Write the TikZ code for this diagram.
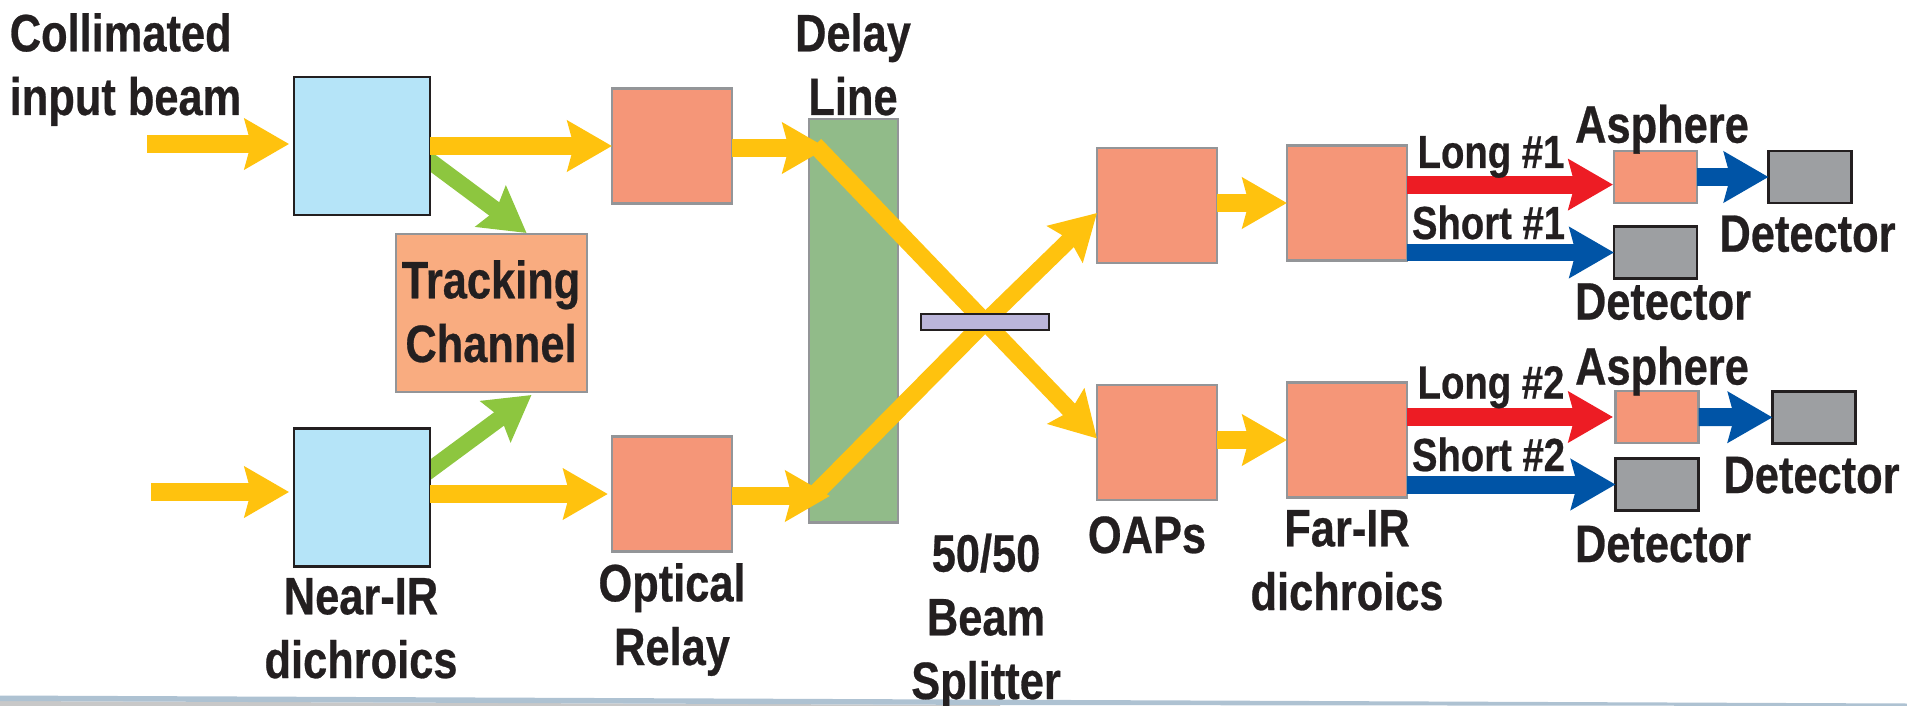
\documentclass[tikz,border=0pt]{standalone}
\usepackage{fontspec}
\setmainfont[FakeStretch=0.825,BoldFeatures={FakeBold=0.5}]{Liberation Sans}
\usetikzlibrary{arrows.meta}
\definecolor{inkc}{HTML}{231F20}
\definecolor{framec}{HTML}{939598}
\definecolor{nearc}{HTML}{B5E4F8}
\definecolor{salmonc}{HTML}{F59678}
\definecolor{trackc}{HTML}{F9AC80}
\definecolor{delayc}{HTML}{91BB89}
\definecolor{splitc}{HTML}{BBB5DA}
\definecolor{beamc}{HTML}{FFC20E}
\definecolor{greenc}{HTML}{8DC63F}
\definecolor{redc}{HTML}{ED1C24}
\definecolor{bluec}{HTML}{0054A6}
\definecolor{detc}{HTML}{9D9FA2}
\definecolor{stripc}{HTML}{AEC2D2}
\definecolor{stripd}{HTML}{C8C8C8}
\tikzset{
  box/.style={draw=framec, line width=2pt, outer sep=0pt, inner sep=0pt},
  nearir/.style={box, draw=inkc, fill=nearc, minimum width=1.36in, minimum height=1.38in},
  relaybox/.style={box, fill=salmonc, minimum width=1.2in, minimum height=1.15in},
  asphbox/.style={box, fill=salmonc, minimum width=0.83in, minimum height=0.52in},
  detbox/.style={box, draw=inkc, fill=detc, minimum width=0.83in, minimum height=0.52in},
  lbl/.style={text=inkc, inner sep=0pt, align=center, anchor=base, font=\fontsize{38}{46}\bfseries\selectfont},
  sublbl/.style={lbl, font=\fontsize{33.5}{40}\bfseries\selectfont},
  beam/.style={line width=13pt, -{Stealth[length=32pt, width=36pt, inset=4.5pt]}},
  thinbeam/.style={beam, line width=12pt},
  plainbeam/.style={draw=beamc, line width=12.5pt}
}
\begin{document}
\begin{tikzpicture}[x=0.01in,y=-0.01in]
\useasboundingbox (0,0) rectangle (1907,706);
% strip along the bottom edge
\fill[stripd] (0,701) -- (1000,705) -- (1000,706) -- (0,706) -- cycle;
\fill[stripc] (0,695.5) -- (1907,703.5) -- (1907,706) -- (1000,705) -- (0,701) -- cycle;
% free ends
\coordinate (in1) at (147,144);
\coordinate (in2) at (151,492);
\coordinate (gr1) at (415,150);
\coordinate (gr2) at (413,482.5);
\coordinate (gt1) at (526.6,233);
\coordinate (gt2) at (531.5,395);
\coordinate (dl1) at (827,148);
\coordinate (dl2) at (830,496);
\coordinate (bs) at (985,322);
\coordinate (oapt1) at (1097,213);
\coordinate (oapt2) at (1097,438.5);
\coordinate (long1) at (1613,184.6);
\coordinate (long2) at (1613,417);
% green beams go under the boxes
\draw[thinbeam, greenc] (gr1) -- (gt1);
\draw[thinbeam, greenc] (gr2) -- (gt2);
% boxes
\node[nearir] (near1) at (362,146) {};
\node[nearir] (near2) at (362,497.5) {};
\node[box, fill=trackc, minimum width=1.91in, minimum height=1.58in] (track) at (491.5,313) {};
\node[relaybox] (relay1) at (672,146) {};
\node[relaybox] (relay2) at (672,494) {};
\node[box, fill=delayc, minimum width=0.89in, minimum height=4.03in] (delay) at (853.5,320.5) {};
\node[relaybox] (oap1) at (1157,205.5) {};
\node[relaybox] (oap2) at (1157,442.5) {};
\node[relaybox] (far1) at (1347,203) {};
\node[relaybox] (far2) at (1347,440) {};
\node[asphbox] (asph1) at (1655.5,177) {};
\node[asphbox] (asph2) at (1657,417) {};
\node[detbox] (det1) at (1810,177) {};
\node[detbox] (det2) at (1655.5,252.5) {};
\node[detbox] (det3) at (1814,417.5) {};
\node[detbox] (det4) at (1657,484.5) {};
% beams
\draw[beam, beamc, shorten >=3.5pt] (in1) -- (in1 -| near1.west);
\draw[beam, beamc, shorten >=3.5pt] (in2) -- (in2 -| near2.west);
\draw[beam, beamc] (near1.east |- relay1) -- (relay1);
\draw[beam, beamc, shorten >=3pt] (near2.east |- relay2) -- (relay2);
\draw[beam, beamc] (relay1.east |- dl1) -- (dl1);
\draw[beam, beamc] (relay2.east |- dl2) -- (dl2);
\draw[plainbeam] (815,145) -- (bs);
\draw[plainbeam] (815,494) -- (bs);
\draw[thinbeam, beamc] (bs) -- (oapt1);
\draw[thinbeam, beamc] (bs) -- (oapt2);
\draw[beam, beamc] (oap1.east |- far1) -- (far1);
\draw[beam, beamc] (oap2.east |- far2) -- (far2);
\draw[beam, redc] (far1.east |- long1) -- (long1);
\draw[beam, redc] (far2.east |- long2) -- (long2);
\draw[beam, bluec] (far1.east |- det2) -- (det2);
\draw[beam, bluec] (far2.east |- det4) -- (det4);
\draw[beam, bluec] (asph1) -- (det1);
\draw[beam, bluec] (asph2) -- (det3);
\node[box, draw=inkc, fill=splitc, minimum width=1.28in, minimum height=0.16in] (split) at (bs) {};
% labels
\node[lbl, align=left] (inlbl) at (125.5,115) {Collimated\\input beam};
\node[lbl] (trklbl) at (491,362) {Tracking\\Channel};
\node[lbl] (dellbl) at (853,115) {Delay\\Line};
\node[lbl] (nrlbl) at (361,678) {Near-IR\\dichroics};
\node[lbl] (oprlbl) at (672,665) {Optical\\Relay};
\node[lbl] (bslbl) at (986,699) {50/50\\Beam\\Splitter};
\node[lbl] (oaplbl) at (1147,553) {OAPs};
\node[lbl] (fdlbl) at (1347,610) {Far-IR\\dichroics};
\node[sublbl] (lg1) at (1491,168) {Long \#1};
\node[sublbl] (st1) at (1488.5,239) {Short \#1};
\node[sublbl] (lg2) at (1491,398.5) {Long \#2};
\node[sublbl] (st2) at (1488.5,471) {Short \#2};
\node[lbl] (aslbl1) at (1662,142.7) {Asphere};
\node[lbl] (aslbl2) at (1662,384.6) {Asphere};
\node[lbl] (dtlbl1) at (1807.5,251.7) {Detector};
\node[lbl] (dtlbl2) at (1663,319.5) {Detector};
\node[lbl] (dtlbl3) at (1811.5,493) {Detector};
\node[lbl] (dtlbl4) at (1663,562) {Detector};
\end{tikzpicture}
\end{document}
